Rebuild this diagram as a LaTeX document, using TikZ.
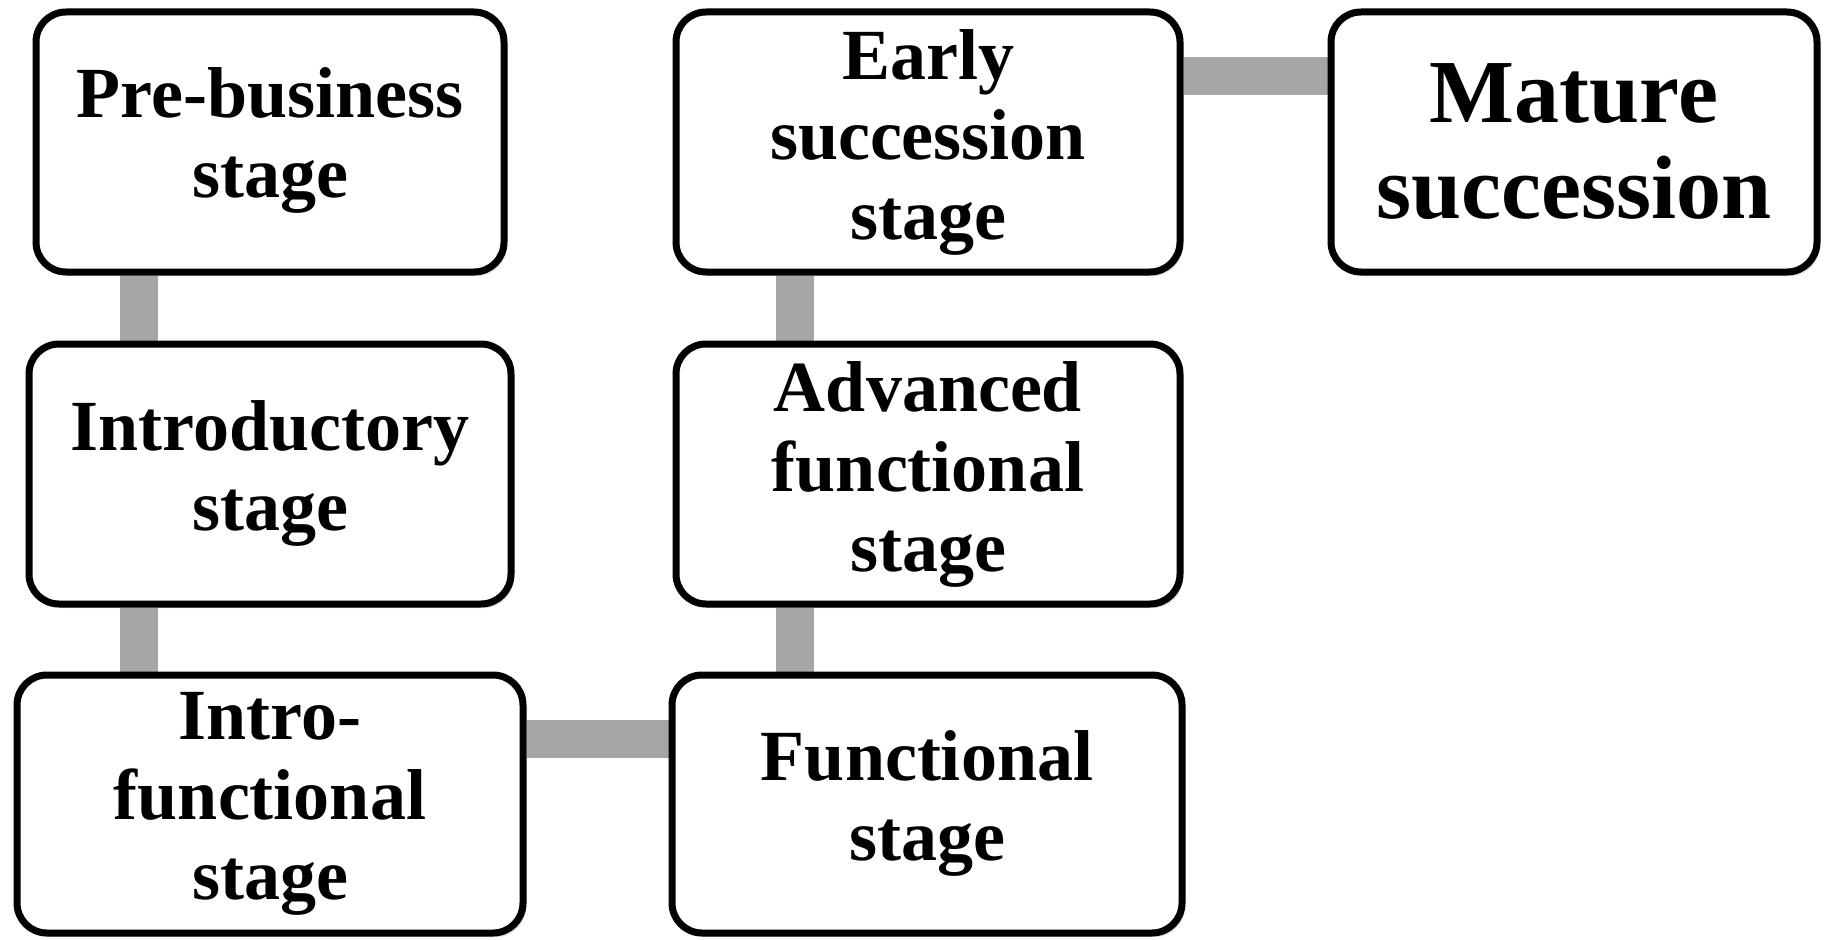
\documentclass[tikz,border=0pt]{standalone}
\usepackage{fontspec}
\setmainfont{Liberation Serif}
\usetikzlibrary{calc,shadows,backgrounds}
\newcommand{\lowtext}[1]{\raisebox{-6pt}{\begin{tabular}{@{}c@{}}#1\end{tabular}}}
\tikzset{
  stagebox/.style={draw=black, line width=7pt, rounded corners=30pt, fill=white,
    inner sep=0pt, align=center,
    font=\fontsize{72}{80}\selectfont\bfseries,
    drop shadow={opacity=0.25, shadow xshift=3pt, shadow yshift=-4pt}},
  link/.style={draw={rgb,255:red,166;green,166;blue,166}, line width=38pt}
}
\begin{document}
\begin{tikzpicture}[x=1pt,y=-1pt]
\useasboundingbox (0,0) rectangle (1827,939);
\node[stagebox, minimum width=468pt, minimum height=260pt] (pre) at (270,142) {\lowtext{Pre-business\\stage}};
\node[stagebox, minimum width=482pt, minimum height=260pt] (intro) at (270,474) {\lowtext{Introductory\\stage}};
\node[stagebox, minimum width=506pt, minimum height=258pt] (ifunc) at (270,804) {Intro-\\functional\\stage};
\node[stagebox, minimum width=504pt, minimum height=260pt] (early) at (928,142) {Early\\succession\\stage};
\node[stagebox, minimum width=504pt, minimum height=260pt] (adv) at (928,474) {Advanced\\functional\\stage};
\node[stagebox, minimum width=510pt, minimum height=258pt] (func) at (927,804) {\lowtext{Functional\\stage}};
\node[stagebox, minimum width=486pt, minimum height=260pt, font=\fontsize{90}{96}\selectfont\bfseries] (mature) at (1574,142) {Mature\\succession};
\begin{scope}[on background layer]
\draw[link] ($(pre.south)+(-131,0)$) -- ($(intro.north)+(-131,0)$);
\draw[link] ($(intro.south)+(-131,0)$) -- ($(ifunc.north)+(-131,0)$);
\draw[link] ($(ifunc.east)+(0,-65)$) -- ($(func.west)+(0,-65)$);
\draw[link] ($(func.north)+(-132,0)$) -- ($(adv.south)+(-133,0)$);
\draw[link] ($(adv.north)+(-133,0)$) -- ($(early.south)+(-133,0)$);
\draw[link] ($(early.east)+(0,-66)$) -- ($(mature.west)+(0,-66)$);
\end{scope}
\end{tikzpicture}
\end{document}
